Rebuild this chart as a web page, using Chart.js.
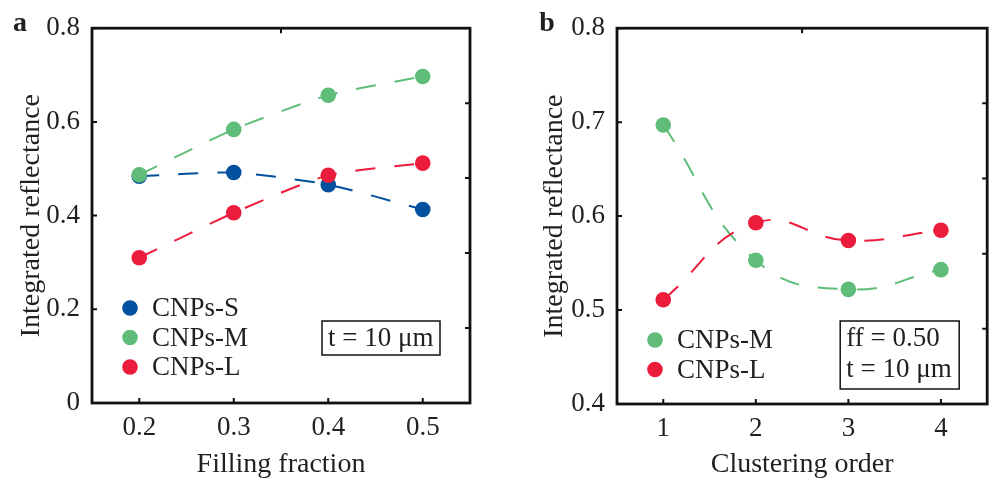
<!DOCTYPE html>
<html>
<head>
<meta charset="utf-8">
<script src="https://cdn.jsdelivr.net/npm/chart.js@4.4.1/dist/chart.umd.min.js"></script>
<style>
    html, body { margin: 0; padding: 0; background: #fff; }
    #wrap { position: relative; width: 995px; height: 481px; overflow: hidden; }
    .panel { position: absolute; top: 0; height: 481px; }
    #panelA { left: 0; width: 485px; }
    #panelB { left: 497px; width: 498px; }
</style>
</head>
<body>
<div id="wrap">
    <div class="panel" id="panelA"><canvas id="chartA" width="485" height="481"></canvas></div>
    <div class="panel" id="panelB"><canvas id="chartB" width="498" height="481"></canvas></div>
</div>
<script>
// panel a: reflectance vs filling fraction
const fillingFraction = [0.2, 0.3, 0.4, 0.5];
const cnpsS_a = [0.484, 0.492, 0.466, 0.413];
const cnpsM_a = [0.487, 0.584, 0.657, 0.697];
const cnpsL_a = [0.310, 0.406, 0.486, 0.512];
const xTicksA = [0.2, 0.3, 0.4, 0.5];
const yTicksA = [0, 0.2, 0.4, 0.6, 0.8];

// panel b: reflectance vs clustering order
const clusteringOrder = [1, 2, 3, 4];
const cnpsM_b = [0.697, 0.553, 0.522, 0.543];
const cnpsL_b = [0.511, 0.593, 0.574, 0.585];
const xTicksB = [1, 2, 3, 4];
const yTicksB = [0.4, 0.5, 0.6, 0.7, 0.8];

const COLORS = { S: '#03509f', M: '#5fbd79', L: '#ec1c3c' };
const TEXT = '#231f20';
const FONT = 'Liberation Serif';

function series(label, xs, ys, color, order, tension) {
    return {
        label: label,
        data: xs.map((x, i) => ({ x: x, y: ys[i] })),
        borderColor: color,
        backgroundColor: color,
        borderWidth: 2,
        borderDash: [20, 19],
        tension: tension,
        pointRadius: 7.8,
        pointBorderWidth: 0,
        pointBackgroundColor: color,
        order: order
    };
}

// frame, inward ticks, legend, text box and panel letter
const panelDecor = {
    id: 'panelDecor',
    afterDraw(chart, args, opts) {
        const ctx = chart.ctx;
        const a = chart.chartArea;
        const xs = chart.scales.x, ys = chart.scales.y;
        ctx.save();

        ctx.strokeStyle = '#111';
        ctx.lineWidth = 2.8;
        ctx.strokeRect(a.left, a.top, a.right - a.left, a.bottom - a.top);

        ctx.lineWidth = 2;
        ctx.beginPath();
        opts.yTicks.forEach(v => {
            const y = ys.getPixelForValue(v);
            ctx.moveTo(a.left, y); ctx.lineTo(a.left + 5, y);
        });
        opts.xTicks.forEach(v => {
            const x = xs.getPixelForValue(v);
            ctx.moveTo(x, a.bottom); ctx.lineTo(x, a.bottom - 5);
        });
        const h = a.bottom - a.top;
        for (let i = 1; i < 5; i++) {
            const y = a.top + h * i / 5;
            ctx.moveTo(a.right, y); ctx.lineTo(a.right - 5, y);
        }
        const mx = (a.left + a.right) / 2;
        ctx.moveTo(mx, a.top); ctx.lineTo(mx, a.top + 5);
        ctx.stroke();

        // legend
        ctx.font = '27px "' + FONT + '"';
        ctx.textBaseline = 'middle';
        ctx.textAlign = 'left';
        chart.data.datasets.forEach((ds, i) => {
            const y = a.bottom - opts.legendTop + i * 29.5;
            const x = a.left + 38;
            ctx.fillStyle = ds.borderColor;
            ctx.beginPath();
            ctx.arc(x, y, 7.8, 0, Math.PI * 2);
            ctx.fill();
            ctx.fillStyle = TEXT;
            ctx.fillText(ds.label, x + 22, y + 1);
        });

        // annotation box
        const bx = a.right - opts.box.right - opts.box.w;
        const by = a.bottom - opts.box.bottom - opts.box.h;
        ctx.fillStyle = '#fff';
        ctx.fillRect(bx, by, opts.box.w, opts.box.h);
        ctx.strokeStyle = '#111';
        ctx.lineWidth = 1.5;
        ctx.strokeRect(bx, by, opts.box.w, opts.box.h);
        ctx.fillStyle = TEXT;
        opts.box.lines.forEach((t, i) => {
            ctx.fillText(t, bx + 6, by + 18 + i * 31);
        });

        // panel letter
        ctx.font = 'bold 28px "' + FONT + '"';
        ctx.textAlign = 'center';
        ctx.fillText(opts.letter, opts.letterX, 24);
        ctx.restore();
    }
};

function axisFont(size) {
    return { family: FONT, size: size };
}

function makeChart(id, datasets, cfg) {
    return new Chart(document.getElementById(id), {
        type: 'line',
        data: { datasets: datasets },
        options: {
            responsive: false,
            animation: false,
            devicePixelRatio: 1,
            layout: { padding: cfg.padding },
            plugins: {
                legend: { display: false },
                tooltip: { enabled: false },
                panelDecor: cfg.decor
            },
            scales: {
                x: {
                    type: 'linear',
                    min: cfg.xMin, max: cfg.xMax,
                    grid: { display: false, drawTicks: false },
                    border: { display: false },
                    afterBuildTicks: s => { s.ticks = cfg.xTicks.map(v => ({ value: v })); },
                    afterFit: s => { s.height = cfg.xHeight; },
                    ticks: {
                        color: TEXT, font: axisFont(27), padding: 9,
                        maxRotation: 0,
                        callback: v => cfg.xFmt(v)
                    },
                    title: {
                        display: true, text: cfg.xTitle, color: TEXT,
                        font: axisFont(28), padding: { top: 0, bottom: 0 }
                    }
                },
                y: {
                    type: 'linear',
                    min: cfg.yMin, max: cfg.yMax,
                    grid: { display: false, drawTicks: false },
                    border: { display: false },
                    afterBuildTicks: s => { s.ticks = cfg.yTicks.map(v => ({ value: v })); },
                    afterFit: s => { s.width = cfg.yWidth; },
                    ticks: {
                        color: TEXT, font: axisFont(27), padding: 12,
                        callback: v => (v === 0 ? '0' : v.toFixed(1))
                    },
                    title: {
                        display: true, text: 'Integrated reflectance', color: TEXT,
                        font: axisFont(28), padding: { top: cfg.yTitlePad, bottom: 0 }
                    }
                }
            }
        },
        plugins: [panelDecor]
    });
}

makeChart('chartA', [
    series('CNPs-S', fillingFraction, cnpsS_a, COLORS.S, 3, 0.2),
    series('CNPs-M', fillingFraction, cnpsM_a, COLORS.M, 2, 0.2),
    series('CNPs-L', fillingFraction, cnpsL_a, COLORS.L, 1, 0.2)
], {
    padding: { left: 0, top: 24, right: 15, bottom: 0 },
    xMin: 0.15, xMax: 0.55, yMin: 0, yMax: 0.8,
    xTicks: xTicksA, yTicks: yTicksA,
    xFmt: v => v.toFixed(1),
    xTitle: 'Filling fraction',
    xHeight: 78, yWidth: 92, yTitlePad: 15,
    decor: {
        xTicks: xTicksA, yTicks: yTicksA,
        legendTop: 95, letter: 'a', letterX: 20,
        box: { right: 30, bottom: 48, w: 118, h: 34, lines: ['t = 10 \u03bcm'] }
    }
});

makeChart('chartB', [
    series('CNPs-M', clusteringOrder, cnpsM_b, COLORS.M, 2, 0.45),
    series('CNPs-L', clusteringOrder, cnpsL_b, COLORS.L, 1, 0.45)
], {
    padding: { left: 0, top: 25, right: 1, bottom: 0 },
    xMin: 0.5, xMax: 4.5, yMin: 0.4, yMax: 0.8,
    xTicks: xTicksB, yTicks: yTicksB,
    xFmt: v => String(v),
    xTitle: 'Clustering order',
    xHeight: 77, yWidth: 120, yTitlePad: 41,
    decor: {
        xTicks: xTicksB, yTicks: yTicksB,
        legendTop: 64, letter: 'b', letterX: 50,
        box: { right: 28, bottom: 15, w: 119, h: 68, lines: ['ff = 0.50', 't = 10 \u03bcm'] }
    }
});
</script>
</body>
</html>
